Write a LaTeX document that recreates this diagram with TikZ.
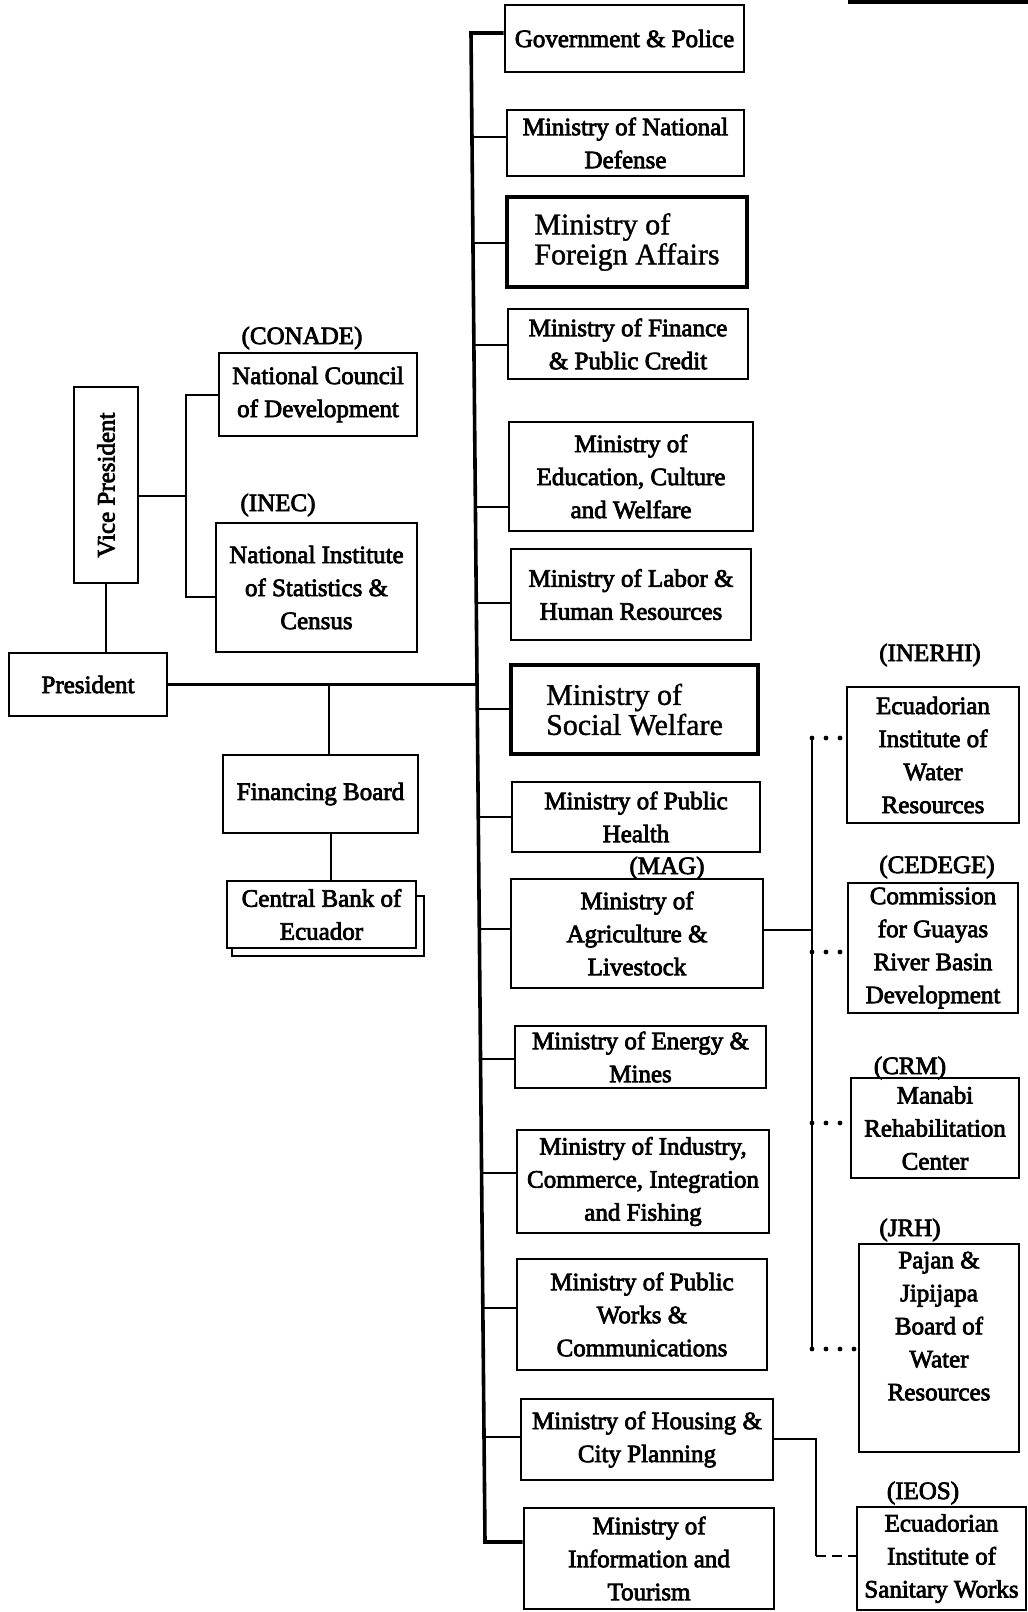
\documentclass[tikz,border=0pt]{standalone}
\usepackage{fontspec}
\setmainfont{Liberation Serif}[FakeBold=3]
\newfontfamily\lightfont{Liberation Serif}[FakeBold=1.2]
\usetikzlibrary{calc}
\tikzset{
  box/.style={draw, line width=1.4pt, inner sep=0pt, align=center, font=\fontsize{12.5}{16.5}\selectfont},
  bigbox/.style={box, line width=2pt, align=left, font=\lightfont\fontsize{15}{15}\selectfont},
  lbl/.style={inner sep=0pt, font=\fontsize{12.5}{15}\selectfont},
  link/.style={line width=1.3pt},
  trunk/.style={line width=1.8pt},
  thinlink/.style={line width=1pt},
  dotlink/.style={line width=2.4pt, dash pattern=on 0pt off 7pt, line cap=round},
  dashlink/.style={line width=1.2pt, dash pattern=on 5pt off 3pt},
}
\begin{document}
\begin{tikzpicture}[x=0.5pt,y=-0.5pt]
\useasboundingbox (0,0) rectangle (1028,1612);
\fill (848,0) rectangle (1028,4);

% ---------- left column ----------
\node[lbl] (conadeL) at (302,338) {(CONADE)};
\node[box, minimum width=99pt, minimum height=41.5pt] (ncd) at (318,394.5) {National Council\\of Development};
\node[lbl] (inecL) at (278,505) {(INEC)};
\node[box, minimum width=100.5pt, minimum height=64.5pt] (nisc) at (316.5,587.5) {National Institute\\of Statistics \&\\Census};
\node[box, minimum width=32pt, minimum height=98pt] (vp) at (106,485) {\rotatebox{90}{Vice President}};
\node[box, minimum width=79pt, minimum height=31.5pt] (pres) at (88,684.5) {President};
\node[box, minimum width=97.5pt, minimum height=39pt] (fb) at (320.5,794) {Financing Board};
\node[box, minimum width=94.5pt, minimum height=33.5pt] (cbe) at (321.5,914.5) {Central Bank of\\Ecuador};

% ---------- middle column ----------
\node[box, minimum width=119.5pt, minimum height=33.5pt] (mGov) at (624.5,38.5) {Government \& Police};
\node[box, minimum width=118.5pt, minimum height=33pt] (mDef) at (625.5,143) {Ministry of National\\Defense};
\node[bigbox, minimum width=120pt, minimum height=45pt] (mFor) at (627,242) {Ministry of\\Foreign Affairs};
\node[box, minimum width=120pt, minimum height=35pt] (mFin) at (628,344) {Ministry of Finance\\\& Public Credit};
\node[box, minimum width=122pt, minimum height=54.5pt] (mEdu) at (631,476.5) {Ministry of\\Education, Culture\\and Welfare};
\node[box, minimum width=120pt, minimum height=45.5pt] (mLab) at (631,594.5) {Ministry of Labor \&\\Human Resources};
\node[bigbox, minimum width=123.5pt, minimum height=44.5pt] (mSW) at (634.5,709.5) {Ministry of\\Social Welfare};
\node[box, minimum width=124pt, minimum height=35pt] (mPH) at (636,817) {Ministry of Public\\Health};
\node[lbl] (magL) at (667,868) {(MAG)};
\node[box, minimum width=126pt, minimum height=54.5pt] (mAgr) at (637,933.5) {Ministry of\\Agriculture \&\\Livestock};
\node[box, minimum width=125.5pt, minimum height=31pt] (mEne) at (640.5,1057) {Ministry of Energy \&\\Mines};
\node[box, minimum width=126pt, minimum height=51.5pt] (mInd) at (643,1181.5) {Ministry of Industry,\\Commerce, Integration\\and Fishing};
\node[box, minimum width=125pt, minimum height=55.5pt] (mPW) at (642,1314.5) {Ministry of Public\\Works \&\\Communications};
\node[box, minimum width=126pt, minimum height=40.5pt] (mHou) at (647,1439.5) {Ministry of Housing \&\\City Planning};
\node[box, minimum width=125pt, minimum height=50.5pt] (mInf) at (649,1558.5) {Ministry of\\Information and\\Tourism};

% ---------- right column ----------
\node[lbl] (inerhiL) at (930,655) {(INERHI)};
\node[box, minimum width=86pt, minimum height=68pt] (inerhi) at (933,755) {Ecuadorian\\Institute of\\Water\\Resources};
\node[lbl] (cedegeL) at (937,867) {(CEDEGE)};
\node[box, minimum width=85pt, minimum height=65pt] (cedege) at (933,948) {Commission\\for Guayas\\River Basin\\Development};
\node[lbl] (crmL) at (910,1068) {(CRM)};
\node[box, minimum width=84pt, minimum height=50pt] (crm) at (935,1128) {Manabi\\Rehabilitation\\Center};
\node[lbl] (jrhL) at (910,1230) {(JRH)};
\node[box, minimum width=80pt, minimum height=104pt, text depth=22pt] (jrh) at (939,1348) {Pajan \&\\Jipijapa\\Board of\\Water\\Resources};
\node[lbl] (ieosL) at (923,1493) {(IEOS)};
\node[box, minimum width=84.5pt, minimum height=51.5pt] (ieos) at (941.5,1558.5) {Ecuadorian\\Institute of\\Sanitary Works};

% ---------- left connectors ----------
\coordinate (jV) at (186,496);
\coordinate (jI) at (186,597);
\draw[thinlink] (vp.east |- jV) -- (jV);
\draw[thinlink] (ncd.west) -- (ncd.west -| jV) -- (jI) -- (jI -| nisc.west);
\draw[thinlink] (vp.south) -- (vp.south |- pres.north);
\coordinate (jF) at (329,684.5);
\draw[thinlink] (jF) -- (jF |- fb.north);
\draw[thinlink] ($(fb.south)+(10.5,0)$) -- ($(cbe.north)+(9.5,0)$);
\draw[thinlink] ($(cbe.north east)+(0,16)$) -| ($(cbe.south east)+(7,7)$) -| ($(cbe.south west)+(6,0)$);

% ---------- trunk ----------
\coordinate (bGov) at (471.0,33);
\coordinate (bDef) at (472.0,137);
\coordinate (bFor) at (473.0,243);
\coordinate (bFin) at (473.9,345);
\coordinate (bEdu) at (475.4,507);
\coordinate (bLab) at (476.3,603);
\coordinate (bPres) at (477.0,684.5);
\coordinate (bSW) at (477.3,709);
\coordinate (bPH) at (478.3,817);
\coordinate (bAgr) at (479.3,929);
\coordinate (bEne) at (480.5,1059);
\coordinate (bInd) at (481.6,1173);
\coordinate (bPW) at (482.8,1308);
\coordinate (bHou) at (484.0,1437);
\coordinate (bInf) at (485.0,1542);
\draw[trunk] (bGov -| mGov.west) -- (bGov) -- (bInf) -- (bInf -| mInf.west);
\foreach \n/\b in {mDef/bDef, mFor/bFor, mFin/bFin, mEdu/bEdu, mLab/bLab, mSW/bSW, mPH/bPH, mAgr/bAgr, mEne/bEne, mInd/bInd, mPW/bPW, mHou/bHou}
  \draw[link] (\b) -- (\b -| \n.west);
\draw[link] (pres.east) -- (bPres);

% ---------- right connectors ----------
\coordinate (sT) at (812,738);
\coordinate (sA) at (812,930);
\coordinate (sC) at (812,952);
\coordinate (sR) at (812,1123);
\coordinate (sB) at (812,1349);
\draw[link] (mAgr.east |- sA) -- (sA);
\draw[thinlink] (sT) -- (sB);
\draw[dotlink] (sT) -- (sT -| inerhi.west);
\draw[dotlink] (sC) -- (sC -| cedege.west);
\draw[dotlink] (sR) -- (sR -| crm.west);
\draw[dotlink] (sB) -- (sB -| jrh.west);
\coordinate (hT) at (816,1439);
\coordinate (hB) at (816,1556);
\draw[thinlink] (mHou.east |- hT) -- (hT) -- (hB);
\draw[dashlink] (hB) -- (hB -| ieos.west);
\end{tikzpicture}
\end{document}
